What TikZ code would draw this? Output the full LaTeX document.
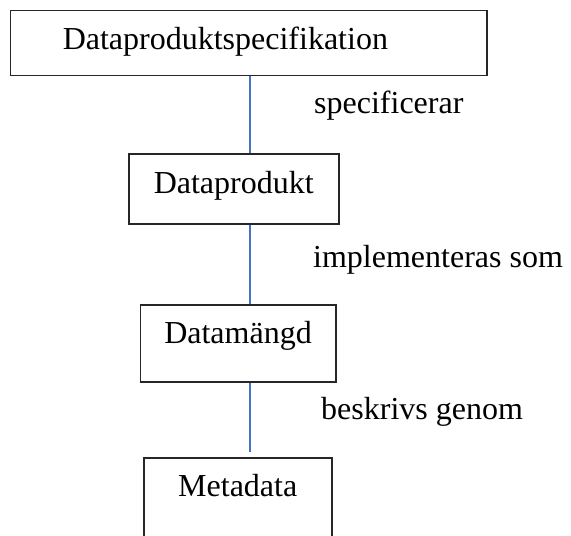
\documentclass[tikz,border=0pt]{standalone}
\usepackage{fontspec}
\setmainfont{Liberation Serif}
\definecolor{linkblue}{HTML}{4472C4}
\begin{document}
\begin{tikzpicture}[x=1pt,y=-1pt,
  entity/.style={draw=black!85, line width=1.5pt, inner sep=0pt, anchor=north west,
    font=\fontsize{32}{34}\selectfont},
  relname/.style={anchor=base west, inner sep=0pt, font=\fontsize{32}{34}\selectfont},
  link/.style={draw=linkblue, line width=1.8pt}]
\useasboundingbox (0,0) rectangle (571,536);
\clip (0,0) rectangle (571,536);

% entity boxes
\node[entity, text width=371.5pt, inner xsep=52.5pt, align=left,
      text height=39.5pt, text depth=25.5pt] (spec) at (9.5,9.5) {Dataproduktspecifikation};
\node[entity, minimum width=210pt, align=center,
      text height=40pt, text depth=30pt] (prod) at (128,153) {Dataprodukt};
\node[entity, minimum width=195.5pt, align=center,
      text height=39pt, text depth=38pt] (set) at (139.5,304) {Datamängd};
\node[entity, minimum width=188pt, align=center,
      text height=39pt, text depth=51pt] (meta) at (143,457) {Metadata};

% vertical connectors along a common axis
\coordinate (axis) at (250,0);
\coordinate (tail) at (250,452);
\draw[link] (spec.south -| axis) -- (prod.north -| axis);
\draw[link] (prod.south -| axis) -- (set.north -| axis);
\draw[link] (set.south -| axis) -- (tail);

% relation names
\node[relname] (r1) at (314,113) {specificerar};
\node[relname] (r2) at (313,267) {implementeras som};
\node[relname] (r3) at (321,419) {beskrivs genom};
\end{tikzpicture}
\end{document}
